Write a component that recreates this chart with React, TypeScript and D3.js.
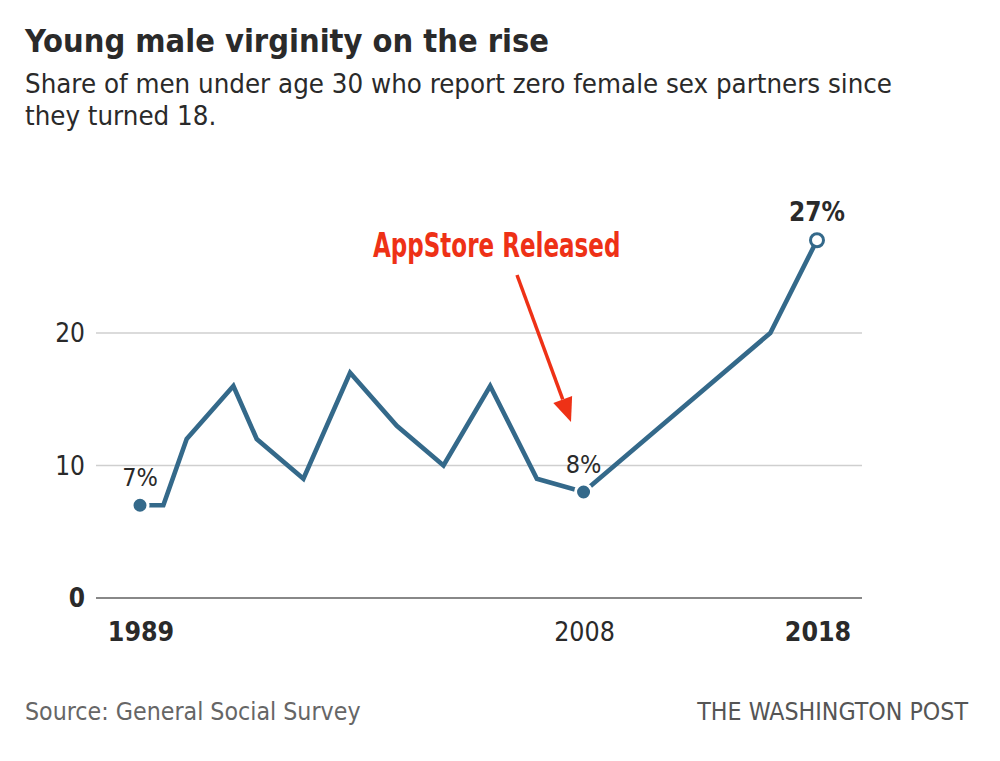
import React from "react";
import * as d3 from "d3";

const years = [1989, 1990, 1991, 1993, 1994, 1996, 1998, 2000, 2002, 2004, 2006, 2008, 2016, 2018];
const shares = [7, 7, 12, 16, 12, 9, 17, 13, 10, 16, 9, 8, 20, 27];
const yTicks = [0, 10, 20];
const xTicks = [1989, 2008, 2018];
const xTickBold = [true, false, true];
const dotYears = [1989, 2008, 2018];
const dotLabels = ["7%", "8%", "27%"];

const LINE = "#34698a";
const NARROW = "'DejaVu Sans Condensed', 'Roboto', sans-serif";

export default function App() {
  const W = 1000, H = 761;
  const x = d3.scaleLinear().domain([1989, 2018]).range([140, 817]);
  const y = d3.scaleLinear().domain([0, 20]).range([598, 333]);
  const line = d3.line<number>().x((_, i) => x(years[i])).y((d) => y(d));
  const path = line(shares) || "";
  const valOf = (yr: number) => shares[years.indexOf(yr)];

  const a0 = [517, 275], a1 = [571, 422];
  const ang = Math.atan2(a1[1] - a0[1], a1[0] - a0[0]);
  const headLen = 24, headW = 10;
  const bx = a1[0] - headLen * Math.cos(ang), by = a1[1] - headLen * Math.sin(ang);
  const px = -Math.sin(ang) * headW, py = Math.cos(ang) * headW;

  return (
    <svg width={W} height={H} style={{ position: "absolute", left: 0, top: 0, background: "#fff" }}>
      <rect width={W} height={H} fill="#fff" />
      <text x={25} y={52} fontFamily={NARROW} fontWeight="bold" fontSize={32.3} fill="#2a2a2a">
        Young male virginity on the rise
      </text>
      <text x={25} y={93} fontFamily={NARROW} fontSize={27.4} fill="#2a2a2a">
        Share of men under age 30 who report zero female sex partners since
      </text>
      <text x={25} y={125} fontFamily={NARROW} fontSize={27.4} fill="#2a2a2a">
        they turned 18.
      </text>

      {yTicks.map((t) => (
        <g key={t}>
          <line x1={96} x2={862} y1={y(t)} y2={y(t)} stroke={t === 0 ? "#888" : "#cfcfcf"} strokeWidth={t === 0 ? 2 : 1.5} />
          <text x={85} y={y(t) + 9} textAnchor="end" fontFamily={NARROW} fontSize={26} fontWeight={t === 0 ? "bold" : "normal"} fill="#2a2a2a">
            {t}
          </text>
        </g>
      ))}

      {xTicks.map((t, i) => (
        <text key={t} x={x(t) + 1} y={641} textAnchor="middle" fontFamily={NARROW} fontSize={26.5} fontWeight={xTickBold[i] ? "bold" : "normal"} fill="#2a2a2a">
          {t}
        </text>
      ))}

      <path d={path} fill="none" stroke={LINE} strokeWidth={4.6} strokeLinejoin="miter" />

      {dotYears.map((yr, i) => (
        <g key={yr}>
          <circle cx={x(yr)} cy={y(valOf(yr))} r={i === 2 ? 6.5 : 8} fill={i === 2 ? "#fff" : LINE} stroke={i === 2 ? LINE : "#fff"} strokeWidth={3} />
          <text x={x(yr)} y={y(valOf(yr)) - 19} textAnchor="middle" fontFamily={NARROW} fontSize={i === 2 ? 26 : 25} fontWeight={i === 2 ? "bold" : "normal"} fill="#2a2a2a">
            {dotLabels[i]}
          </text>
        </g>
      ))}

      <g transform="translate(373,257) scale(0.8,1.05)">
        <text x={0} y={0} fontFamily={NARROW} fontWeight="bold" fontSize={32} fill="#ee3116">
          AppStore Released
        </text>
      </g>
      <line x1={a0[0]} y1={a0[1]} x2={bx} y2={by} stroke="#ee3116" strokeWidth={3.5} />
      <polygon points={`${a1[0]},${a1[1]} ${bx + px},${by + py} ${bx - px},${by - py}`} fill="#ee3116" />

      <text x={25} y={720} fontFamily={NARROW} fontSize={24.7} fill="#666">
        Source: General Social Survey
      </text>
      <text x={968} y={720} textAnchor="end" fontFamily={NARROW} fontSize={24.7} fill="#555">
        THE WASHINGTON POST
      </text>
    </svg>
  );
}
